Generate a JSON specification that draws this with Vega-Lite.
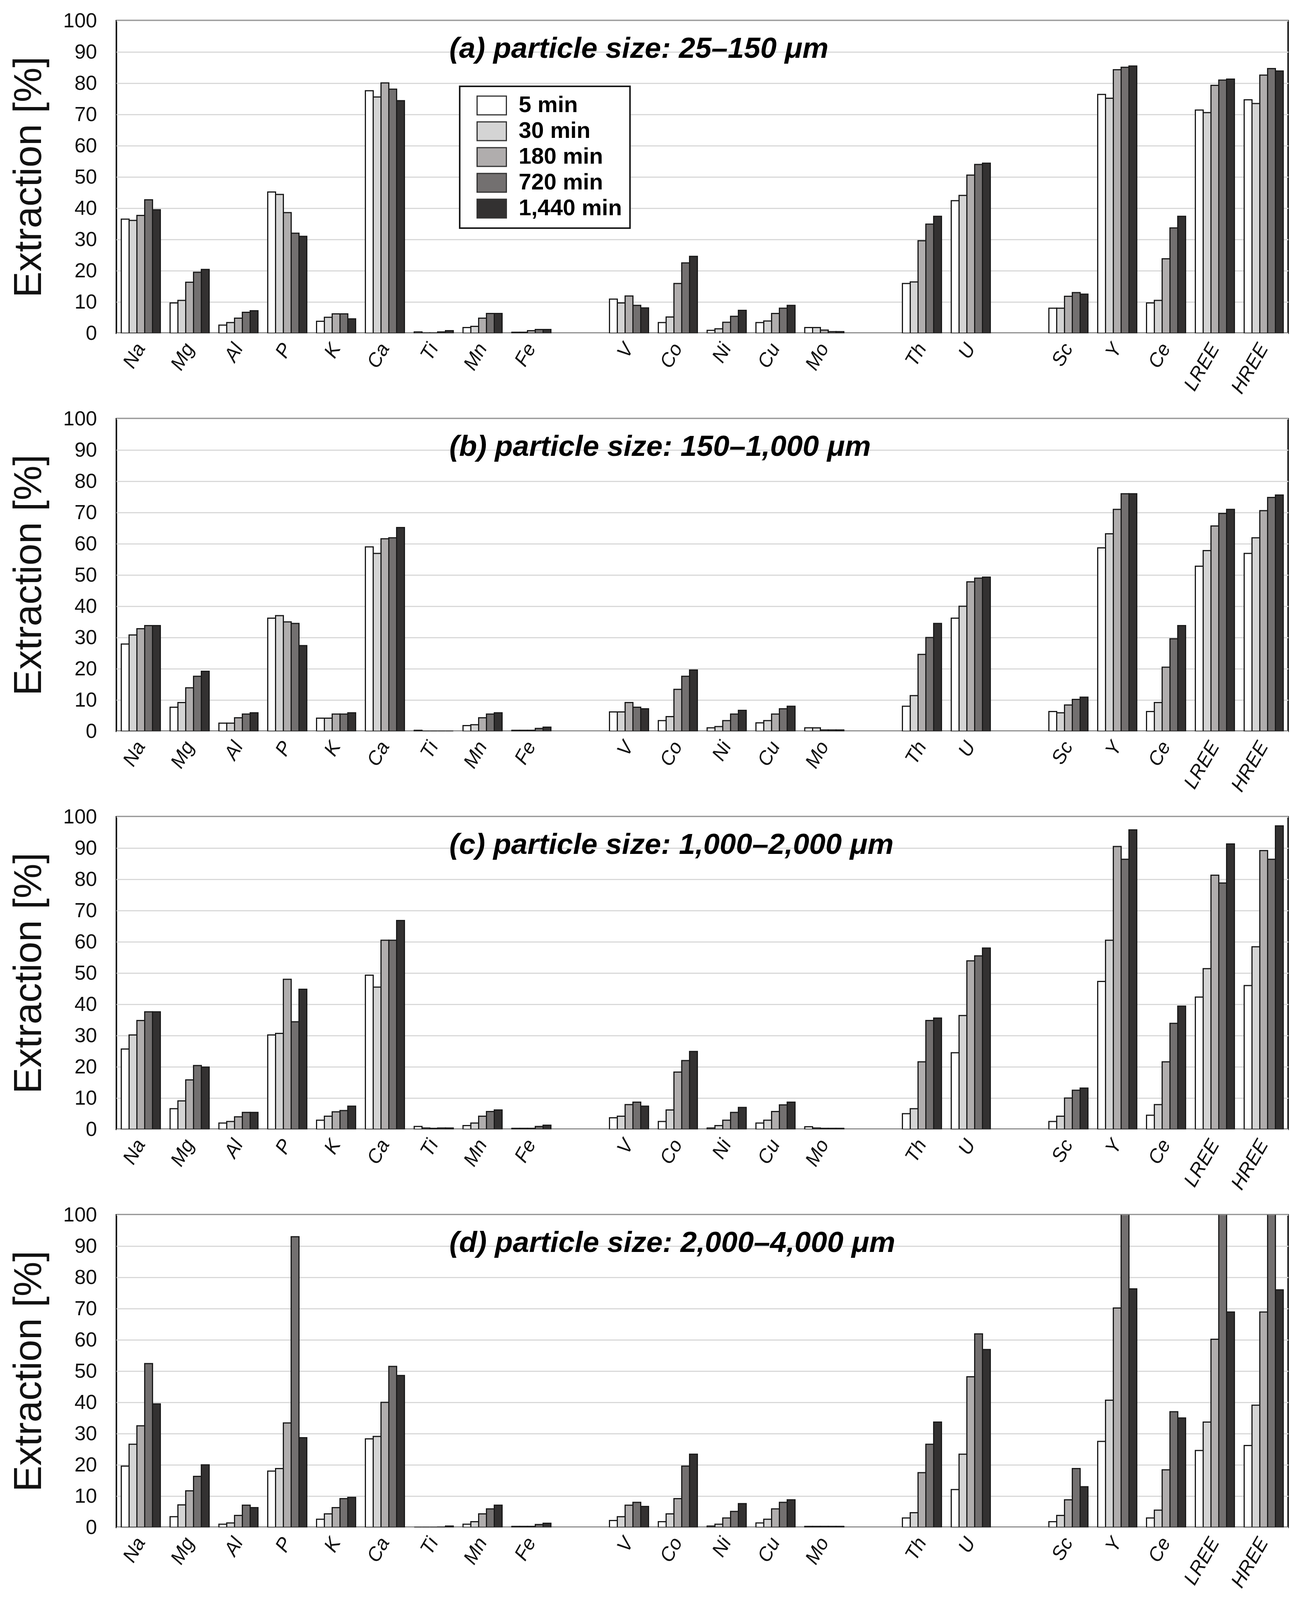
{
  "$schema": "https://vega.github.io/schema/vega-lite/v6.json",
  "background": "white",
  "padding": {"left": 22, "top": 25, "right": 33, "bottom": 5},
  "config": {
    "font": "Liberation Sans",
    "view": {"stroke": "#1a1a1a", "strokeWidth": 4},
    "axisX": {
      "labelAngle": -60, "labelAlign": "right", "labelBaseline": "middle",
      "labelFontSize": 50, "labelFontStyle": "italic", "labelColor": "#111",
      "labelPadding": 30, "ticks": false, "domain": false, "grid": false, "title": null
    },
    "axisY": {
      "labelFontSize": 52, "labelPadding": 50, "labelColor": "#111",
      "ticks": false, "domain": false, "grid": true, "gridColor": "#d9d9d9", "gridWidth": 3,
      "titleFontSize": 100, "titleFontWeight": "normal", "titleColor": "#111", "titlePadding": 36
    }
  },
  "resolve": {"legend": {"color": "independent"}},
  "spacing": 26,
  "datasets": {
    "extraction": [
      {"p":"a","el":"Na","t":"5 min","v":36.5},{"p":"a","el":"Na","t":"30 min","v":36.1},{"p":"a","el":"Na","t":"180 min","v":37.7},{"p":"a","el":"Na","t":"720 min","v":42.7},{"p":"a","el":"Na","t":"1,440 min","v":39.5},
      {"p":"a","el":"Mg","t":"5 min","v":9.7},{"p":"a","el":"Mg","t":"30 min","v":10.5},{"p":"a","el":"Mg","t":"180 min","v":16.3},{"p":"a","el":"Mg","t":"720 min","v":19.5},{"p":"a","el":"Mg","t":"1,440 min","v":20.4},
      {"p":"a","el":"Al","t":"5 min","v":2.6},{"p":"a","el":"Al","t":"30 min","v":3.4},{"p":"a","el":"Al","t":"180 min","v":4.8},{"p":"a","el":"Al","t":"720 min","v":6.7},{"p":"a","el":"Al","t":"1,440 min","v":7.2},
      {"p":"a","el":"P","t":"5 min","v":45.2},{"p":"a","el":"P","t":"30 min","v":44.4},{"p":"a","el":"P","t":"180 min","v":38.6},{"p":"a","el":"P","t":"720 min","v":32.0},{"p":"a","el":"P","t":"1,440 min","v":31.0},
      {"p":"a","el":"K","t":"5 min","v":3.8},{"p":"a","el":"K","t":"30 min","v":5.1},{"p":"a","el":"K","t":"180 min","v":6.2},{"p":"a","el":"K","t":"720 min","v":6.2},{"p":"a","el":"K","t":"1,440 min","v":4.6},
      {"p":"a","el":"Ca","t":"5 min","v":77.6},{"p":"a","el":"Ca","t":"30 min","v":75.6},{"p":"a","el":"Ca","t":"180 min","v":80.1},{"p":"a","el":"Ca","t":"720 min","v":78.1},{"p":"a","el":"Ca","t":"1,440 min","v":74.4},
      {"p":"a","el":"Ti","t":"5 min","v":0.4},{"p":"a","el":"Ti","t":"30 min","v":0.1},{"p":"a","el":"Ti","t":"180 min","v":0.1},{"p":"a","el":"Ti","t":"720 min","v":0.4},{"p":"a","el":"Ti","t":"1,440 min","v":0.8},
      {"p":"a","el":"Mn","t":"5 min","v":1.8},{"p":"a","el":"Mn","t":"30 min","v":2.2},{"p":"a","el":"Mn","t":"180 min","v":4.8},{"p":"a","el":"Mn","t":"720 min","v":6.3},{"p":"a","el":"Mn","t":"1,440 min","v":6.3},
      {"p":"a","el":"Fe","t":"5 min","v":0.3},{"p":"a","el":"Fe","t":"30 min","v":0.3},{"p":"a","el":"Fe","t":"180 min","v":0.8},{"p":"a","el":"Fe","t":"720 min","v":1.2},{"p":"a","el":"Fe","t":"1,440 min","v":1.2},
      {"p":"a","el":"V","t":"5 min","v":10.9},{"p":"a","el":"V","t":"30 min","v":9.7},{"p":"a","el":"V","t":"180 min","v":11.9},{"p":"a","el":"V","t":"720 min","v":8.9},{"p":"a","el":"V","t":"1,440 min","v":8.1},
      {"p":"a","el":"Co","t":"5 min","v":3.4},{"p":"a","el":"Co","t":"30 min","v":5.2},{"p":"a","el":"Co","t":"180 min","v":15.9},{"p":"a","el":"Co","t":"720 min","v":22.5},{"p":"a","el":"Co","t":"1,440 min","v":24.6},
      {"p":"a","el":"Ni","t":"5 min","v":0.9},{"p":"a","el":"Ni","t":"30 min","v":1.4},{"p":"a","el":"Ni","t":"180 min","v":3.5},{"p":"a","el":"Ni","t":"720 min","v":5.4},{"p":"a","el":"Ni","t":"1,440 min","v":7.3},
      {"p":"a","el":"Cu","t":"5 min","v":3.4},{"p":"a","el":"Cu","t":"30 min","v":3.9},{"p":"a","el":"Cu","t":"180 min","v":6.3},{"p":"a","el":"Cu","t":"720 min","v":8.0},{"p":"a","el":"Cu","t":"1,440 min","v":8.9},
      {"p":"a","el":"Mo","t":"5 min","v":1.8},{"p":"a","el":"Mo","t":"30 min","v":1.8},{"p":"a","el":"Mo","t":"180 min","v":1.0},{"p":"a","el":"Mo","t":"720 min","v":0.5},{"p":"a","el":"Mo","t":"1,440 min","v":0.5},
      {"p":"a","el":"Th","t":"5 min","v":15.9},{"p":"a","el":"Th","t":"30 min","v":16.4},{"p":"a","el":"Th","t":"180 min","v":29.6},{"p":"a","el":"Th","t":"720 min","v":34.9},{"p":"a","el":"Th","t":"1,440 min","v":37.4},
      {"p":"a","el":"U","t":"5 min","v":42.4},{"p":"a","el":"U","t":"30 min","v":44.1},{"p":"a","el":"U","t":"180 min","v":50.6},{"p":"a","el":"U","t":"720 min","v":54.0},{"p":"a","el":"U","t":"1,440 min","v":54.4},
      {"p":"a","el":"Sc","t":"5 min","v":8.0},{"p":"a","el":"Sc","t":"30 min","v":8.0},{"p":"a","el":"Sc","t":"180 min","v":11.8},{"p":"a","el":"Sc","t":"720 min","v":13.0},{"p":"a","el":"Sc","t":"1,440 min","v":12.5},
      {"p":"a","el":"Y","t":"5 min","v":76.4},{"p":"a","el":"Y","t":"30 min","v":75.2},{"p":"a","el":"Y","t":"180 min","v":84.3},{"p":"a","el":"Y","t":"720 min","v":85.1},{"p":"a","el":"Y","t":"1,440 min","v":85.5},
      {"p":"a","el":"Ce","t":"5 min","v":9.7},{"p":"a","el":"Ce","t":"30 min","v":10.5},{"p":"a","el":"Ce","t":"180 min","v":23.8},{"p":"a","el":"Ce","t":"720 min","v":33.7},{"p":"a","el":"Ce","t":"1,440 min","v":37.4},
      {"p":"a","el":"LREE","t":"5 min","v":71.4},{"p":"a","el":"LREE","t":"30 min","v":70.6},{"p":"a","el":"LREE","t":"180 min","v":79.3},{"p":"a","el":"LREE","t":"720 min","v":81.0},{"p":"a","el":"LREE","t":"1,440 min","v":81.3},
      {"p":"a","el":"HREE","t":"5 min","v":74.7},{"p":"a","el":"HREE","t":"30 min","v":73.5},{"p":"a","el":"HREE","t":"180 min","v":82.6},{"p":"a","el":"HREE","t":"720 min","v":84.7},{"p":"a","el":"HREE","t":"1,440 min","v":83.9},

      {"p":"b","el":"Na","t":"5 min","v":27.9},{"p":"b","el":"Na","t":"30 min","v":30.8},{"p":"b","el":"Na","t":"180 min","v":32.8},{"p":"b","el":"Na","t":"720 min","v":33.8},{"p":"b","el":"Na","t":"1,440 min","v":33.8},
      {"p":"b","el":"Mg","t":"5 min","v":7.7},{"p":"b","el":"Mg","t":"30 min","v":9.2},{"p":"b","el":"Mg","t":"180 min","v":13.9},{"p":"b","el":"Mg","t":"720 min","v":17.6},{"p":"b","el":"Mg","t":"1,440 min","v":19.2},
      {"p":"b","el":"Al","t":"5 min","v":2.6},{"p":"b","el":"Al","t":"30 min","v":2.6},{"p":"b","el":"Al","t":"180 min","v":4.3},{"p":"b","el":"Al","t":"720 min","v":5.5},{"p":"b","el":"Al","t":"1,440 min","v":5.9},
      {"p":"b","el":"P","t":"5 min","v":36.2},{"p":"b","el":"P","t":"30 min","v":37.0},{"p":"b","el":"P","t":"180 min","v":35.0},{"p":"b","el":"P","t":"720 min","v":34.5},{"p":"b","el":"P","t":"1,440 min","v":27.4},
      {"p":"b","el":"K","t":"5 min","v":4.2},{"p":"b","el":"K","t":"30 min","v":4.2},{"p":"b","el":"K","t":"180 min","v":5.5},{"p":"b","el":"K","t":"720 min","v":5.5},{"p":"b","el":"K","t":"1,440 min","v":5.9},
      {"p":"b","el":"Ca","t":"5 min","v":59.0},{"p":"b","el":"Ca","t":"30 min","v":56.9},{"p":"b","el":"Ca","t":"180 min","v":61.6},{"p":"b","el":"Ca","t":"720 min","v":61.9},{"p":"b","el":"Ca","t":"1,440 min","v":65.2},
      {"p":"b","el":"Ti","t":"5 min","v":0.3},{"p":"b","el":"Ti","t":"30 min","v":0},{"p":"b","el":"Ti","t":"180 min","v":0},{"p":"b","el":"Ti","t":"720 min","v":0},{"p":"b","el":"Ti","t":"1,440 min","v":0},
      {"p":"b","el":"Mn","t":"5 min","v":1.8},{"p":"b","el":"Mn","t":"30 min","v":2.1},{"p":"b","el":"Mn","t":"180 min","v":4.3},{"p":"b","el":"Mn","t":"720 min","v":5.5},{"p":"b","el":"Mn","t":"1,440 min","v":5.9},
      {"p":"b","el":"Fe","t":"5 min","v":0.3},{"p":"b","el":"Fe","t":"30 min","v":0.3},{"p":"b","el":"Fe","t":"180 min","v":0.3},{"p":"b","el":"Fe","t":"720 min","v":0.9},{"p":"b","el":"Fe","t":"1,440 min","v":1.3},
      {"p":"b","el":"V","t":"5 min","v":6.2},{"p":"b","el":"V","t":"30 min","v":6.2},{"p":"b","el":"V","t":"180 min","v":9.2},{"p":"b","el":"V","t":"720 min","v":7.7},{"p":"b","el":"V","t":"1,440 min","v":7.2},
      {"p":"b","el":"Co","t":"5 min","v":3.4},{"p":"b","el":"Co","t":"30 min","v":4.7},{"p":"b","el":"Co","t":"180 min","v":13.4},{"p":"b","el":"Co","t":"720 min","v":17.6},{"p":"b","el":"Co","t":"1,440 min","v":19.6},
      {"p":"b","el":"Ni","t":"5 min","v":1.1},{"p":"b","el":"Ni","t":"30 min","v":1.5},{"p":"b","el":"Ni","t":"180 min","v":3.4},{"p":"b","el":"Ni","t":"720 min","v":5.5},{"p":"b","el":"Ni","t":"1,440 min","v":6.7},
      {"p":"b","el":"Cu","t":"5 min","v":2.7},{"p":"b","el":"Cu","t":"30 min","v":3.4},{"p":"b","el":"Cu","t":"180 min","v":5.5},{"p":"b","el":"Cu","t":"720 min","v":7.2},{"p":"b","el":"Cu","t":"1,440 min","v":8.0},
      {"p":"b","el":"Mo","t":"5 min","v":1.1},{"p":"b","el":"Mo","t":"30 min","v":1.1},{"p":"b","el":"Mo","t":"180 min","v":0.4},{"p":"b","el":"Mo","t":"720 min","v":0.4},{"p":"b","el":"Mo","t":"1,440 min","v":0.4},
      {"p":"b","el":"Th","t":"5 min","v":8.0},{"p":"b","el":"Th","t":"30 min","v":11.4},{"p":"b","el":"Th","t":"180 min","v":24.6},{"p":"b","el":"Th","t":"720 min","v":30.0},{"p":"b","el":"Th","t":"1,440 min","v":34.5},
      {"p":"b","el":"U","t":"5 min","v":36.2},{"p":"b","el":"U","t":"30 min","v":40.0},{"p":"b","el":"U","t":"180 min","v":47.8},{"p":"b","el":"U","t":"720 min","v":49.0},{"p":"b","el":"U","t":"1,440 min","v":49.3},
      {"p":"b","el":"Sc","t":"5 min","v":6.3},{"p":"b","el":"Sc","t":"30 min","v":5.9},{"p":"b","el":"Sc","t":"180 min","v":8.4},{"p":"b","el":"Sc","t":"720 min","v":10.2},{"p":"b","el":"Sc","t":"1,440 min","v":10.9},
      {"p":"b","el":"Y","t":"5 min","v":58.7},{"p":"b","el":"Y","t":"30 min","v":63.2},{"p":"b","el":"Y","t":"180 min","v":71.0},{"p":"b","el":"Y","t":"720 min","v":76.0},{"p":"b","el":"Y","t":"1,440 min","v":76.0},
      {"p":"b","el":"Ce","t":"5 min","v":6.3},{"p":"b","el":"Ce","t":"30 min","v":9.2},{"p":"b","el":"Ce","t":"180 min","v":20.5},{"p":"b","el":"Ce","t":"720 min","v":29.6},{"p":"b","el":"Ce","t":"1,440 min","v":33.8},
      {"p":"b","el":"LREE","t":"5 min","v":52.8},{"p":"b","el":"LREE","t":"30 min","v":57.8},{"p":"b","el":"LREE","t":"180 min","v":65.7},{"p":"b","el":"LREE","t":"720 min","v":69.7},{"p":"b","el":"LREE","t":"1,440 min","v":71.0},
      {"p":"b","el":"HREE","t":"5 min","v":56.9},{"p":"b","el":"HREE","t":"30 min","v":61.9},{"p":"b","el":"HREE","t":"180 min","v":70.6},{"p":"b","el":"HREE","t":"720 min","v":74.8},{"p":"b","el":"HREE","t":"1,440 min","v":75.6},

      {"p":"c","el":"Na","t":"5 min","v":25.7},{"p":"c","el":"Na","t":"30 min","v":30.2},{"p":"c","el":"Na","t":"180 min","v":34.8},{"p":"c","el":"Na","t":"720 min","v":37.6},{"p":"c","el":"Na","t":"1,440 min","v":37.6},
      {"p":"c","el":"Mg","t":"5 min","v":6.6},{"p":"c","el":"Mg","t":"30 min","v":9.1},{"p":"c","el":"Mg","t":"180 min","v":15.8},{"p":"c","el":"Mg","t":"720 min","v":20.4},{"p":"c","el":"Mg","t":"1,440 min","v":19.9},
      {"p":"c","el":"Al","t":"5 min","v":2.0},{"p":"c","el":"Al","t":"30 min","v":2.5},{"p":"c","el":"Al","t":"180 min","v":4.0},{"p":"c","el":"Al","t":"720 min","v":5.4},{"p":"c","el":"Al","t":"1,440 min","v":5.4},
      {"p":"c","el":"P","t":"5 min","v":30.2},{"p":"c","el":"P","t":"30 min","v":30.7},{"p":"c","el":"P","t":"180 min","v":48.0},{"p":"c","el":"P","t":"720 min","v":34.4},{"p":"c","el":"P","t":"1,440 min","v":44.8},
      {"p":"c","el":"K","t":"5 min","v":2.9},{"p":"c","el":"K","t":"30 min","v":4.2},{"p":"c","el":"K","t":"180 min","v":5.6},{"p":"c","el":"K","t":"720 min","v":6.0},{"p":"c","el":"K","t":"1,440 min","v":7.4},
      {"p":"c","el":"Ca","t":"5 min","v":49.3},{"p":"c","el":"Ca","t":"30 min","v":45.5},{"p":"c","el":"Ca","t":"180 min","v":60.5},{"p":"c","el":"Ca","t":"720 min","v":60.5},{"p":"c","el":"Ca","t":"1,440 min","v":66.8},
      {"p":"c","el":"Ti","t":"5 min","v":0.9},{"p":"c","el":"Ti","t":"30 min","v":0.4},{"p":"c","el":"Ti","t":"180 min","v":0.3},{"p":"c","el":"Ti","t":"720 min","v":0.4},{"p":"c","el":"Ti","t":"1,440 min","v":0.4},
      {"p":"c","el":"Mn","t":"5 min","v":1.2},{"p":"c","el":"Mn","t":"30 min","v":2.0},{"p":"c","el":"Mn","t":"180 min","v":4.2},{"p":"c","el":"Mn","t":"720 min","v":5.7},{"p":"c","el":"Mn","t":"1,440 min","v":6.2},
      {"p":"c","el":"Fe","t":"5 min","v":0.3},{"p":"c","el":"Fe","t":"30 min","v":0.3},{"p":"c","el":"Fe","t":"180 min","v":0.3},{"p":"c","el":"Fe","t":"720 min","v":0.9},{"p":"c","el":"Fe","t":"1,440 min","v":1.3},
      {"p":"c","el":"V","t":"5 min","v":3.7},{"p":"c","el":"V","t":"30 min","v":4.2},{"p":"c","el":"V","t":"180 min","v":7.9},{"p":"c","el":"V","t":"720 min","v":8.7},{"p":"c","el":"V","t":"1,440 min","v":7.4},
      {"p":"c","el":"Co","t":"5 min","v":2.5},{"p":"c","el":"Co","t":"30 min","v":6.2},{"p":"c","el":"Co","t":"180 min","v":18.3},{"p":"c","el":"Co","t":"720 min","v":22.0},{"p":"c","el":"Co","t":"1,440 min","v":24.9},
      {"p":"c","el":"Ni","t":"5 min","v":0.4},{"p":"c","el":"Ni","t":"30 min","v":1.2},{"p":"c","el":"Ni","t":"180 min","v":2.9},{"p":"c","el":"Ni","t":"720 min","v":5.4},{"p":"c","el":"Ni","t":"1,440 min","v":7.0},
      {"p":"c","el":"Cu","t":"5 min","v":2.0},{"p":"c","el":"Cu","t":"30 min","v":2.9},{"p":"c","el":"Cu","t":"180 min","v":5.7},{"p":"c","el":"Cu","t":"720 min","v":7.8},{"p":"c","el":"Cu","t":"1,440 min","v":8.7},
      {"p":"c","el":"Mo","t":"5 min","v":0.8},{"p":"c","el":"Mo","t":"30 min","v":0.4},{"p":"c","el":"Mo","t":"180 min","v":0.3},{"p":"c","el":"Mo","t":"720 min","v":0.3},{"p":"c","el":"Mo","t":"1,440 min","v":0.3},
      {"p":"c","el":"Th","t":"5 min","v":5.0},{"p":"c","el":"Th","t":"30 min","v":6.6},{"p":"c","el":"Th","t":"180 min","v":21.6},{"p":"c","el":"Th","t":"720 min","v":34.8},{"p":"c","el":"Th","t":"1,440 min","v":35.6},
      {"p":"c","el":"U","t":"5 min","v":24.5},{"p":"c","el":"U","t":"30 min","v":36.4},{"p":"c","el":"U","t":"180 min","v":53.9},{"p":"c","el":"U","t":"720 min","v":55.5},{"p":"c","el":"U","t":"1,440 min","v":58.0},
      {"p":"c","el":"Sc","t":"5 min","v":2.5},{"p":"c","el":"Sc","t":"30 min","v":4.2},{"p":"c","el":"Sc","t":"180 min","v":10.0},{"p":"c","el":"Sc","t":"720 min","v":12.5},{"p":"c","el":"Sc","t":"1,440 min","v":13.2},
      {"p":"c","el":"Y","t":"5 min","v":47.3},{"p":"c","el":"Y","t":"30 min","v":60.5},{"p":"c","el":"Y","t":"180 min","v":90.5},{"p":"c","el":"Y","t":"720 min","v":86.4},{"p":"c","el":"Y","t":"1,440 min","v":95.8},
      {"p":"c","el":"Ce","t":"5 min","v":4.5},{"p":"c","el":"Ce","t":"30 min","v":7.9},{"p":"c","el":"Ce","t":"180 min","v":21.6},{"p":"c","el":"Ce","t":"720 min","v":33.9},{"p":"c","el":"Ce","t":"1,440 min","v":39.4},
      {"p":"c","el":"LREE","t":"5 min","v":42.3},{"p":"c","el":"LREE","t":"30 min","v":51.4},{"p":"c","el":"LREE","t":"180 min","v":81.3},{"p":"c","el":"LREE","t":"720 min","v":78.8},{"p":"c","el":"LREE","t":"1,440 min","v":91.3},
      {"p":"c","el":"HREE","t":"5 min","v":46.0},{"p":"c","el":"HREE","t":"30 min","v":58.4},{"p":"c","el":"HREE","t":"180 min","v":89.2},{"p":"c","el":"HREE","t":"720 min","v":86.4},{"p":"c","el":"HREE","t":"1,440 min","v":97.1},

      {"p":"d","el":"Na","t":"5 min","v":19.6},{"p":"d","el":"Na","t":"30 min","v":26.6},{"p":"d","el":"Na","t":"180 min","v":32.5},{"p":"d","el":"Na","t":"720 min","v":52.4},{"p":"d","el":"Na","t":"1,440 min","v":39.5},
      {"p":"d","el":"Mg","t":"5 min","v":3.4},{"p":"d","el":"Mg","t":"30 min","v":7.2},{"p":"d","el":"Mg","t":"180 min","v":11.7},{"p":"d","el":"Mg","t":"720 min","v":16.3},{"p":"d","el":"Mg","t":"1,440 min","v":20.0},
      {"p":"d","el":"Al","t":"5 min","v":1.0},{"p":"d","el":"Al","t":"30 min","v":1.4},{"p":"d","el":"Al","t":"180 min","v":3.8},{"p":"d","el":"Al","t":"720 min","v":7.1},{"p":"d","el":"Al","t":"1,440 min","v":6.3},
      {"p":"d","el":"P","t":"5 min","v":18.0},{"p":"d","el":"P","t":"30 min","v":18.8},{"p":"d","el":"P","t":"180 min","v":33.4},{"p":"d","el":"P","t":"720 min","v":93.0},{"p":"d","el":"P","t":"1,440 min","v":28.7},
      {"p":"d","el":"K","t":"5 min","v":2.6},{"p":"d","el":"K","t":"30 min","v":4.3},{"p":"d","el":"K","t":"180 min","v":6.3},{"p":"d","el":"K","t":"720 min","v":9.2},{"p":"d","el":"K","t":"1,440 min","v":9.6},
      {"p":"d","el":"Ca","t":"5 min","v":28.3},{"p":"d","el":"Ca","t":"30 min","v":29.1},{"p":"d","el":"Ca","t":"180 min","v":40.0},{"p":"d","el":"Ca","t":"720 min","v":51.5},{"p":"d","el":"Ca","t":"1,440 min","v":48.6},
      {"p":"d","el":"Ti","t":"5 min","v":0},{"p":"d","el":"Ti","t":"30 min","v":0},{"p":"d","el":"Ti","t":"180 min","v":0},{"p":"d","el":"Ti","t":"720 min","v":0.1},{"p":"d","el":"Ti","t":"1,440 min","v":0.4},
      {"p":"d","el":"Mn","t":"5 min","v":1.0},{"p":"d","el":"Mn","t":"30 min","v":1.8},{"p":"d","el":"Mn","t":"180 min","v":4.3},{"p":"d","el":"Mn","t":"720 min","v":5.9},{"p":"d","el":"Mn","t":"1,440 min","v":7.1},
      {"p":"d","el":"Fe","t":"5 min","v":0.3},{"p":"d","el":"Fe","t":"30 min","v":0.3},{"p":"d","el":"Fe","t":"180 min","v":0.3},{"p":"d","el":"Fe","t":"720 min","v":0.9},{"p":"d","el":"Fe","t":"1,440 min","v":1.3},
      {"p":"d","el":"V","t":"5 min","v":2.2},{"p":"d","el":"V","t":"30 min","v":3.4},{"p":"d","el":"V","t":"180 min","v":7.1},{"p":"d","el":"V","t":"720 min","v":8.0},{"p":"d","el":"V","t":"1,440 min","v":6.7},
      {"p":"d","el":"Co","t":"5 min","v":1.8},{"p":"d","el":"Co","t":"30 min","v":4.3},{"p":"d","el":"Co","t":"180 min","v":9.2},{"p":"d","el":"Co","t":"720 min","v":19.6},{"p":"d","el":"Co","t":"1,440 min","v":23.4},
      {"p":"d","el":"Ni","t":"5 min","v":0.4},{"p":"d","el":"Ni","t":"30 min","v":1.0},{"p":"d","el":"Ni","t":"180 min","v":3.0},{"p":"d","el":"Ni","t":"720 min","v":5.1},{"p":"d","el":"Ni","t":"1,440 min","v":7.6},
      {"p":"d","el":"Cu","t":"5 min","v":1.4},{"p":"d","el":"Cu","t":"30 min","v":2.6},{"p":"d","el":"Cu","t":"180 min","v":5.9},{"p":"d","el":"Cu","t":"720 min","v":8.0},{"p":"d","el":"Cu","t":"1,440 min","v":8.8},
      {"p":"d","el":"Mo","t":"5 min","v":0.3},{"p":"d","el":"Mo","t":"30 min","v":0.3},{"p":"d","el":"Mo","t":"180 min","v":0.3},{"p":"d","el":"Mo","t":"720 min","v":0.3},{"p":"d","el":"Mo","t":"1,440 min","v":0.3},
      {"p":"d","el":"Th","t":"5 min","v":3.0},{"p":"d","el":"Th","t":"30 min","v":4.7},{"p":"d","el":"Th","t":"180 min","v":17.5},{"p":"d","el":"Th","t":"720 min","v":26.6},{"p":"d","el":"Th","t":"1,440 min","v":33.7},
      {"p":"d","el":"U","t":"5 min","v":12.1},{"p":"d","el":"U","t":"30 min","v":23.4},{"p":"d","el":"U","t":"180 min","v":48.2},{"p":"d","el":"U","t":"720 min","v":61.9},{"p":"d","el":"U","t":"1,440 min","v":56.9},
      {"p":"d","el":"Sc","t":"5 min","v":1.8},{"p":"d","el":"Sc","t":"30 min","v":3.8},{"p":"d","el":"Sc","t":"180 min","v":8.8},{"p":"d","el":"Sc","t":"720 min","v":18.8},{"p":"d","el":"Sc","t":"1,440 min","v":13.0},
      {"p":"d","el":"Y","t":"5 min","v":27.5},{"p":"d","el":"Y","t":"30 min","v":40.7},{"p":"d","el":"Y","t":"180 min","v":70.2},{"p":"d","el":"Y","t":"720 min","v":104},{"p":"d","el":"Y","t":"1,440 min","v":76.3},
      {"p":"d","el":"Ce","t":"5 min","v":3.0},{"p":"d","el":"Ce","t":"30 min","v":5.5},{"p":"d","el":"Ce","t":"180 min","v":18.4},{"p":"d","el":"Ce","t":"720 min","v":37.0},{"p":"d","el":"Ce","t":"1,440 min","v":35.0},
      {"p":"d","el":"LREE","t":"5 min","v":24.6},{"p":"d","el":"LREE","t":"30 min","v":33.7},{"p":"d","el":"LREE","t":"180 min","v":60.2},{"p":"d","el":"LREE","t":"720 min","v":104},{"p":"d","el":"LREE","t":"1,440 min","v":68.9},
      {"p":"d","el":"HREE","t":"5 min","v":26.2},{"p":"d","el":"HREE","t":"30 min","v":39.1},{"p":"d","el":"HREE","t":"180 min","v":68.9},{"p":"d","el":"HREE","t":"720 min","v":104},{"p":"d","el":"HREE","t":"1,440 min","v":76.0}
    ]
  },
  "vconcat": [
    {
      "width": 3000, "height": 800,
      "layer": [
        {
          "data": {"name": "extraction"},
          "transform": [{"filter": "datum.p == 'a'"}],
          "mark": {"type": "bar", "stroke": "#1a1a1a", "strokeWidth": 3, "clip": true},
          "encoding": {
            "x": {"field": "el", "type": "nominal", "axis": {"labelExpr": "indexof(datum.value, 'gap') == 0 ? '' : datum.value"},
              "scale": {"domain": ["Na","Mg","Al","P","K","Ca","Ti","Mn","Fe","gap1","V","Co","Ni","Cu","Mo","gap2","Th","U","gap3","Sc","Y","Ce","LREE","HREE"], "paddingInner": 0.2, "paddingOuter": 0.1}},
            "xOffset": {"field": "t", "type": "nominal", "sort": ["5 min","30 min","180 min","720 min","1,440 min"]},
            "y": {"field": "v", "type": "quantitative", "title": "Extraction [%]", "scale": {"domain": [0, 100], "nice": false},
              "axis": {"values": [0, 10, 20, 30, 40, 50, 60, 70, 80, 90, 100]}},
            "color": {"field": "t", "type": "nominal",
              "scale": {"domain": ["5 min","30 min","180 min","720 min","1,440 min"], "range": ["#ffffff","#d4d4d4","#b0adad","#737070","#333131"]},
              "legend": {"orient": "none", "legendX": 879, "legendY": 168, "title": null, "direction": "vertical",
                "strokeColor": "#1a1a1a", "fillColor": "white", "padding": 20,
                "symbolType": "M-1.5,-0.96H1.5V0.96H-1.5Z", "symbolSize": 2500, "symbolStrokeColor": "#333333", "symbolStrokeWidth": 3,
                "symbolOffset": 33, "labelOffset": 40, "rowPadding": 6, "labelLimit": 600,
                "labelFontSize": 58, "labelFontWeight": "bold", "labelColor": "black", "labelFont": "Liberation Sans",
                "encode": {"legend": {"update": {"strokeWidth": {"value": 4}}}}}}
          }
        },
        {
          "data": {"values": [{"label": "(a) particle size: 25–150 μm"}]},
          "mark": {"type": "text", "fontSize": 75, "fontWeight": "bold", "fontStyle": "italic", "color": "black", "align": "left", "baseline": "middle", "dx": 40},
          "encoding": {"x": {"datum": "Ti"}, "y": {"datum": 91}, "text": {"field": "label"}}
        }
      ]
    },
    {
      "width": 3000, "height": 800,
      "layer": [
        {
          "data": {"name": "extraction"},
          "transform": [{"filter": "datum.p == 'b'"}],
          "mark": {"type": "bar", "stroke": "#1a1a1a", "strokeWidth": 3, "clip": true},
          "encoding": {
            "x": {"field": "el", "type": "nominal", "axis": {"labelExpr": "indexof(datum.value, 'gap') == 0 ? '' : datum.value"},
              "scale": {"domain": ["Na","Mg","Al","P","K","Ca","Ti","Mn","Fe","gap1","V","Co","Ni","Cu","Mo","gap2","Th","U","gap3","Sc","Y","Ce","LREE","HREE"], "paddingInner": 0.2, "paddingOuter": 0.1}},
            "xOffset": {"field": "t", "type": "nominal", "sort": ["5 min","30 min","180 min","720 min","1,440 min"]},
            "y": {"field": "v", "type": "quantitative", "title": "Extraction [%]", "scale": {"domain": [0, 100], "nice": false},
              "axis": {"values": [0, 10, 20, 30, 40, 50, 60, 70, 80, 90, 100]}},
            "color": {"field": "t", "type": "nominal",
              "scale": {"domain": ["5 min","30 min","180 min","720 min","1,440 min"], "range": ["#ffffff","#d4d4d4","#b0adad","#737070","#333131"]},
              "legend": null}
          }
        },
        {
          "data": {"values": [{"label": "(b) particle size: 150–1,000 μm"}]},
          "mark": {"type": "text", "fontSize": 75, "fontWeight": "bold", "fontStyle": "italic", "color": "black", "align": "left", "baseline": "middle", "dx": 40},
          "encoding": {"x": {"datum": "Ti"}, "y": {"datum": 91}, "text": {"field": "label"}}
        }
      ]
    },
    {
      "width": 3000, "height": 800,
      "layer": [
        {
          "data": {"name": "extraction"},
          "transform": [{"filter": "datum.p == 'c'"}],
          "mark": {"type": "bar", "stroke": "#1a1a1a", "strokeWidth": 3, "clip": true},
          "encoding": {
            "x": {"field": "el", "type": "nominal", "axis": {"labelExpr": "indexof(datum.value, 'gap') == 0 ? '' : datum.value"},
              "scale": {"domain": ["Na","Mg","Al","P","K","Ca","Ti","Mn","Fe","gap1","V","Co","Ni","Cu","Mo","gap2","Th","U","gap3","Sc","Y","Ce","LREE","HREE"], "paddingInner": 0.2, "paddingOuter": 0.1}},
            "xOffset": {"field": "t", "type": "nominal", "sort": ["5 min","30 min","180 min","720 min","1,440 min"]},
            "y": {"field": "v", "type": "quantitative", "title": "Extraction [%]", "scale": {"domain": [0, 100], "nice": false},
              "axis": {"values": [0, 10, 20, 30, 40, 50, 60, 70, 80, 90, 100]}},
            "color": {"field": "t", "type": "nominal",
              "scale": {"domain": ["5 min","30 min","180 min","720 min","1,440 min"], "range": ["#ffffff","#d4d4d4","#b0adad","#737070","#333131"]},
              "legend": null}
          }
        },
        {
          "data": {"values": [{"label": "(c) particle size: 1,000–2,000 μm"}]},
          "mark": {"type": "text", "fontSize": 75, "fontWeight": "bold", "fontStyle": "italic", "color": "black", "align": "left", "baseline": "middle", "dx": 40},
          "encoding": {"x": {"datum": "Ti"}, "y": {"datum": 91}, "text": {"field": "label"}}
        }
      ]
    },
    {
      "width": 3000, "height": 800,
      "layer": [
        {
          "data": {"name": "extraction"},
          "transform": [{"filter": "datum.p == 'd'"}],
          "mark": {"type": "bar", "stroke": "#1a1a1a", "strokeWidth": 3, "clip": true},
          "encoding": {
            "x": {"field": "el", "type": "nominal", "axis": {"labelExpr": "indexof(datum.value, 'gap') == 0 ? '' : datum.value"},
              "scale": {"domain": ["Na","Mg","Al","P","K","Ca","Ti","Mn","Fe","gap1","V","Co","Ni","Cu","Mo","gap2","Th","U","gap3","Sc","Y","Ce","LREE","HREE"], "paddingInner": 0.2, "paddingOuter": 0.1}},
            "xOffset": {"field": "t", "type": "nominal", "sort": ["5 min","30 min","180 min","720 min","1,440 min"]},
            "y": {"field": "v", "type": "quantitative", "title": "Extraction [%]", "scale": {"domain": [0, 100], "nice": false},
              "axis": {"values": [0, 10, 20, 30, 40, 50, 60, 70, 80, 90, 100]}},
            "color": {"field": "t", "type": "nominal",
              "scale": {"domain": ["5 min","30 min","180 min","720 min","1,440 min"], "range": ["#ffffff","#d4d4d4","#b0adad","#737070","#333131"]},
              "legend": null}
          }
        },
        {
          "data": {"values": [{"label": "(d) particle size: 2,000–4,000 μm"}]},
          "mark": {"type": "text", "fontSize": 75, "fontWeight": "bold", "fontStyle": "italic", "color": "black", "align": "left", "baseline": "middle", "dx": 40},
          "encoding": {"x": {"datum": "Ti"}, "y": {"datum": 91}, "text": {"field": "label"}}
        }
      ]
    }
  ]
}
